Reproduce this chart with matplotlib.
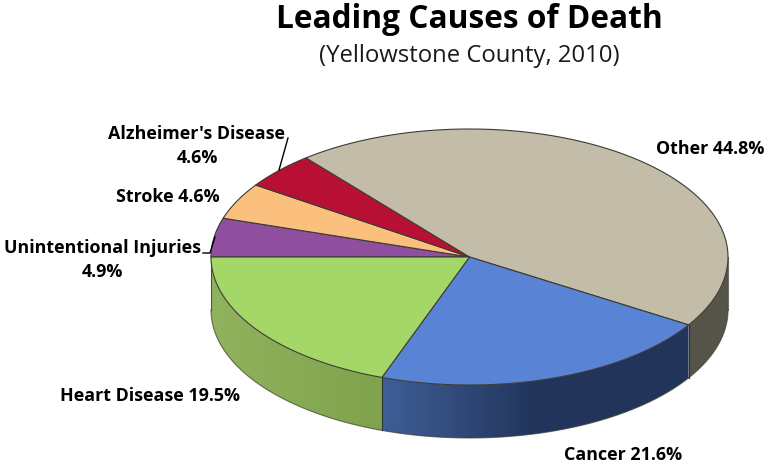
import numpy as np
import matplotlib
matplotlib.use("Agg")
import matplotlib.pyplot as plt
from matplotlib.patches import Polygon
from matplotlib.colors import to_rgb

plt.rcParams['font.family'] = ['Open Sans', 'DejaVu Sans']

# Data, clockwise from the 9 o'clock position
categories = ["Unintentional Injuries", "Stroke", "Alzheimer's Disease", "Other", "Cancer", "Heart Disease"]
values = [4.9, 4.6, 4.6, 44.8, 21.6, 19.5]
top_colors = ["#8F4E9E", "#FCC07E", "#B81035", "#C2BCA8", "#5984D6", "#A4D768"]
side_left = ["#6b3a76", "#bd905e", "#8a0c28", "#57544A", "#3F5F98", "#92B35D"]
side_right = ["#6b3a76", "#bd905e", "#8a0c28", "#57544A", "#22345A", "#7FA24C"]

W, H = 768, 468
fig = plt.figure(figsize=(W / 100, H / 100), dpi=100)
ax = fig.add_axes([0, 0, 1, 1])
ax.set_xlim(0, W)
ax.set_ylim(H, 0)
ax.axis("off")

cx, cy, rx, ry, depth = 469.5, 257, 258.5, 128, 53


def pt(t, dy=0):
    t = np.radians(t)
    return cx + rx * np.cos(t), cy + ry * np.sin(t) + dy


fr = np.array(values) / np.sum(values)
edges = 180 + 360 * np.concatenate([[0], np.cumsum(fr)])

# Side wall (only the front half of the rim, t in 360..540)
for i in range(len(values)):
    a, b = max(edges[i], 360), min(edges[i + 1], 540)
    if b <= a:
        continue
    tt = np.linspace(a, b, 200)
    xs, ys = pt(tt)
    outline = list(zip(xs, ys)) + list(zip(xs[::-1], ys[::-1] + depth))
    wall = Polygon(outline, closed=True, fc="none", ec="none", zorder=2)
    ax.add_patch(wall)
    xa, xb = pt(b)[0], pt(a)[0]
    cl, cr = np.array(to_rgb(side_left[i])), np.array(to_rgb(side_right[i]))
    f = np.linspace(0, 1, 256)
    if i == 4:
        f = np.clip(f * 2.0, 0, 1)
    grad = (cl + (cr - cl) * f[:, None])[None, :, :]
    im = ax.imshow(grad, extent=(xa, xb, cy + ry + depth + 2, cy - 2), aspect="auto",
                   zorder=2, interpolation="bilinear")
    im.set_clip_path(wall)
    ax.plot(xs, ys + depth, color="#3a3f35", lw=0.8, alpha=0.7, zorder=3)
    for t in (a, b):
        x, y = pt(t)
        ax.plot([x, x], [y, y + depth], color="#2d332a", lw=0.8, alpha=0.7, zorder=3)
ax.set_xlim(0, W)
ax.set_ylim(H, 0)

# Top face
for i in range(len(values)):
    tt = np.linspace(edges[i], edges[i + 1], 200)
    xs, ys = pt(tt)
    pts = [(cx, cy)] + list(zip(xs, ys))
    ax.add_patch(Polygon(pts, closed=True, fc=top_colors[i], ec="#3c3c34", lw=0.8, zorder=4))

# Leader lines
ax.plot([288, 279], [138, 170], color="black", lw=1, zorder=5)
ax.plot([203, 210, 215], [253, 253, 237], color="black", lw=1, zorder=5)

# Text
ax.text(469.5, 20, "Leading Causes of Death", ha="center", va="center",
        fontsize=22.8, fontweight="bold", color="black")
ax.text(469.5, 56, "(Yellowstone County, 2010)", ha="center", va="center",
        fontsize=17.2, color="#1a1a1a")

lab = dict(ha="center", va="center", fontsize=12.9, fontweight="bold", color="black", linespacing=1.36)
ax.text(197, 146, f"{categories[2]}\n{values[2]}%", **lab)
ax.text(168, 197, f"{categories[1]} {values[1]}%", **lab)
ax.text(102, 260, f"{categories[0]}\n{values[0]}%", **lab)
ax.text(710.5, 149, f"{categories[3]} {values[3]}%", **lab)
ax.text(150, 396, f"{categories[5]} {values[5]}%", **lab)
ax.text(623, 455, f"{categories[4]} {values[4]}%", **lab)

fig.savefig("out.png", dpi=100)
